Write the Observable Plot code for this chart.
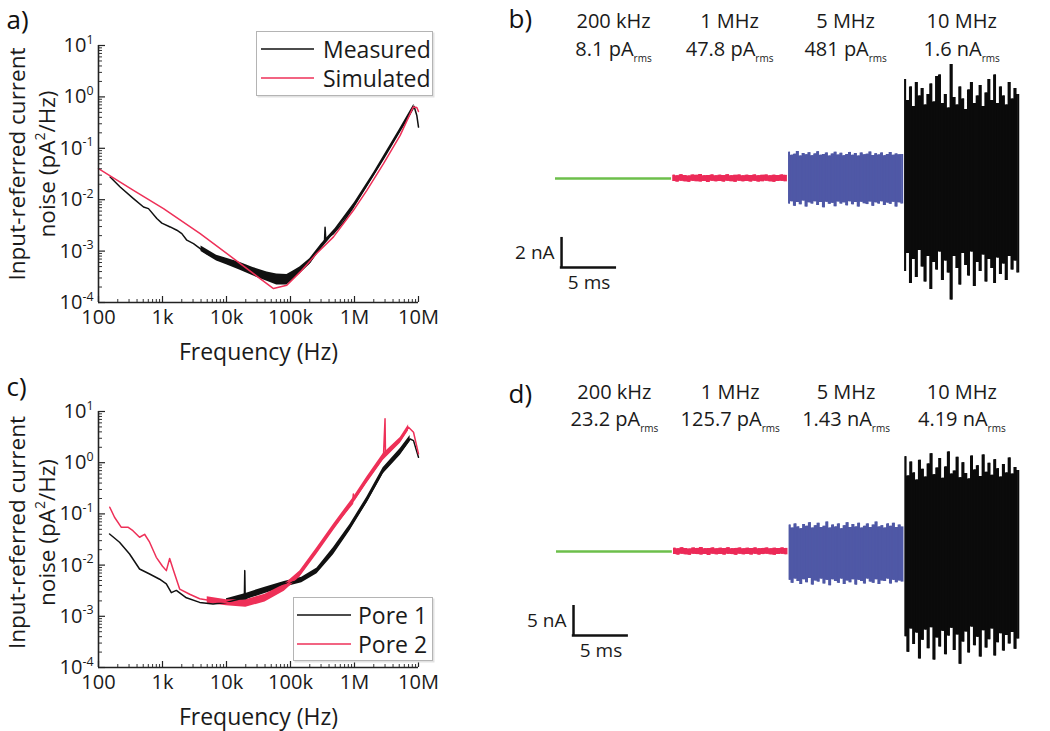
<!DOCTYPE html>
<html><head><meta charset="utf-8">
<script src="https://cdn.jsdelivr.net/npm/d3@7"></script>
<script src="https://cdn.jsdelivr.net/npm/@observablehq/plot@0.6"></script>
<style>
body{margin:0;background:#fff;}
#fig{position:relative;width:1050px;height:731px;overflow:hidden;font-family:"Open Sans",sans-serif;}
#fig > div{position:absolute;}
.legend{box-sizing:border-box;border:1.5px solid #b4b4b4;background:#fff;box-shadow:1.5px 1.5px 0 #e2e2e2;}
</style></head><body><div id="fig"></div>
<script>
// ---------- shared axis ticks ----------
const decadeTicks = [1e2, 1e3, 1e4, 1e5, 1e6, 1e7];
const decadeLabels = ["100", "1k", "10k", "100k", "1M", "10M"];
const yDecadeTicks = [1e-4, 1e-3, 1e-2, 1e-1, 1, 10];
const yDecadeExp = ["-4", "-3", "-2", "-1", "0", "1"];
const minorMultipliers = [2, 3, 4, 5, 6, 7, 8, 9];

// ---------- panel a : noise spectrum ----------
const aMeasuredF = [152, 218, 352, 505, 604, 815, 977, 1318, 1675, 2005, 2400, 3050, 3880, 4930, 7060, 10100, 16400, 26400, 42700, 61100, 87600, 111000, 142000, 203000, 291000, 340000, 347000, 356000, 470000, 673000, 964000, 1560000, 2840000, 5170000, 7410000, 8550000, 9410000, 10000000];
const aMeasuredV = [0.0277, 0.0177, 0.0105, 0.0072, 0.0067, 0.0043, 0.0035, 0.00295, 0.00255, 0.00219, 0.00163, 0.0014, 0.00112, 0.000895, 0.000716, 0.000617, 0.000493, 0.000394, 0.000325, 0.000293, 0.000293, 0.00034, 0.000425, 0.000617, 0.00121, 0.0016, 0.0029, 0.0017, 0.00219, 0.00369, 0.00722, 0.019, 0.0628, 0.223, 0.47, 0.653, 0.436, 0.259];
const aBandF = [4000, 7000, 10000, 16000, 26000, 43000, 61000, 88000, 110000, 140000, 200000, 300000, 500000, 1000000, 2000000, 5000000, 8500000];
const aBandLo = [0.00098, 0.00064, 0.00054, 0.00043, 0.00033, 0.00026, 0.00022, 0.00022, 0.00028, 0.00036, 0.00055, 0.00108, 0.0023, 0.0071, 0.028, 0.19, 0.57];
const aBandHi = [0.00125, 0.00083, 0.00073, 0.00061, 0.00048, 0.00039, 0.00036, 0.00035, 0.00041, 0.00049, 0.00071, 0.00136, 0.00275, 0.0088, 0.034, 0.23, 0.72];
const aSimulatedF = [100, 352, 1037, 3880, 12900, 33500, 54200, 87600, 142000, 256000, 470000, 964000, 1560000, 2840000, 5170000, 8270000, 9410000, 10000000];
const aSimulatedV = [0.0402, 0.0152, 0.0067, 0.00219, 0.000716, 0.000292, 0.000187, 0.000217, 0.000394, 0.000895, 0.00189, 0.00622, 0.0152, 0.0502, 0.178, 0.634, 0.62, 0.52];

// ---------- panel c : two pores ----------
const cPore1F = [149, 213, 306, 438, 629, 902, 1148, 1374, 1644, 2360, 3810, 6170, 9980, 16100, 19000, 19300, 19600, 26100, 42200, 76900, 140000, 256000, 467000, 851000, 1550000, 2830000, 5160000, 7410000, 8360000, 10000000];
const cPore1V = [0.0405, 0.028, 0.0165, 0.0084, 0.0067, 0.0053, 0.0043, 0.0029, 0.0032, 0.0023, 0.00187, 0.00173, 0.00187, 0.00217, 0.0022, 0.0078, 0.0022, 0.0027, 0.0034, 0.0043, 0.005, 0.0078, 0.019, 0.055, 0.182, 0.70, 1.6, 2.9, 2.7, 1.28];
const cPore1BandF = [10000, 20000, 40000, 80000, 150000, 260000, 470000, 850000, 1550000, 2800000, 5200000, 7400000];
const cPore1BandLo = [0.0017, 0.0021, 0.0028, 0.0037, 0.0045, 0.0068, 0.016, 0.047, 0.16, 0.6, 1.4, 2.6];
const cPore1BandHi = [0.0022, 0.0028, 0.0037, 0.0048, 0.0058, 0.0088, 0.022, 0.062, 0.21, 0.8, 1.9, 3.4];
const cPore2F = [150, 178, 226, 288, 345, 438, 525, 629, 800, 1000, 1148, 1294, 1460, 1855, 2660, 3810, 6170, 9980, 16100, 26100, 42200, 76900, 140000, 256000, 467000, 930000, 960000, 990000, 1550000, 2830000, 3000000, 3050000, 5160000, 6980000, 8360000, 10000000];
const cPore2V = [0.135, 0.086, 0.055, 0.055, 0.047, 0.035, 0.040, 0.028, 0.0142, 0.0095, 0.0078, 0.0135, 0.0084, 0.0034, 0.0027, 0.0022, 0.0020, 0.00187, 0.00173, 0.00187, 0.00234, 0.00367, 0.0067, 0.0191, 0.0547, 0.16, 0.245, 0.19, 0.447, 1.28, 7.2, 1.4, 2.71, 4.94, 3.94, 1.49];
const cPore2BandF = [5000, 10000, 20000, 40000, 80000, 140000, 260000, 470000, 960000, 1550000, 2800000, 5200000, 7000000];
const cPore2BandLo = [0.0018, 0.0016, 0.0015, 0.0019, 0.0031, 0.0058, 0.0165, 0.047, 0.16, 0.39, 1.1, 2.4, 4.2];
const cPore2BandHi = [0.0024, 0.0021, 0.0021, 0.0027, 0.0042, 0.0077, 0.022, 0.063, 0.21, 0.52, 1.5, 3.1, 5.5];

// ---------- panels b & d : time traces ----------
const freqLabels = ["200 kHz", "1 MHz", "5 MHz", "10 MHz"];
const bRmsLabels = ["8.1 pA", "47.8 pA", "481 pA", "1.6 nA"];
const dRmsLabels = ["23.2 pA", "125.7 pA", "1.43 nA", "4.19 nA"];
const segStart = [0, 10.55, 21.1, 31.65];   // ms
const segLen = 10.55;                        // ms
const traceColors = ["#6dbf4b", "#ec2a58", "#4f58a6", "#0b0b0b"];

const bRedHi = [0.22,0.18,0.25,0.2,0.17,0.23,0.21,0.26,0.19,0.2,0.24,0.18,0.22,0.2,0.25,0.19,0.21,0.23,0.18,0.22,0.2,0.24,0.19,0.21,0.23,0.18,0.22,0.2,0.24,0.21];
const bRedLo = [-0.2,-0.24,-0.18,-0.22,-0.25,-0.19,-0.21,-0.23,-0.2,-0.26,-0.18,-0.22,-0.2,-0.24,-0.19,-0.21,-0.25,-0.18,-0.22,-0.2,-0.23,-0.19,-0.24,-0.21,-0.18,-0.22,-0.25,-0.2,-0.19,-0.22];
const bBlueHi = [1.75,1.55,1.62,1.8,1.5,1.66,1.58,1.72,1.52,1.64,1.78,1.55,1.6,1.7,1.5,1.63,1.75,1.56,1.68,1.52,1.6,1.74,1.55,1.66,1.5,1.7,1.58,1.62,1.76,1.53,1.65,1.57,1.7,1.52,1.6,1.73,1.55,1.64,1.58,1.6];
const bBlueLo = [-1.7,-1.55,-1.85,-1.6,-1.75,-1.5,-1.9,-1.62,-1.7,-1.55,-1.8,-1.6,-1.95,-1.58,-1.72,-1.65,-1.88,-1.56,-1.7,-1.62,-1.82,-1.55,-1.75,-1.6,-1.9,-1.58,-1.68,-1.74,-1.56,-1.85,-1.62,-1.7,-1.55,-1.8,-1.64,-1.72,-1.58,-1.9,-1.62,-1.7];
const bBlackHi = [6.6,5.2,6.1,4.8,6.4,5.5,6.0,4.9,5.6,6.3,5.1,6.8,6.9,5.0,5.6,4.7,7.6,5.4,4.9,6.1,5.3,4.6,5.9,6.4,5.0,5.5,6.2,4.8,5.7,6.6,5.2,6.9,5.0,6.1,5.5,4.9,6.4,5.3,6.0,5.6];
const bBlackLo = [-6.2,-5.0,-7.0,-5.4,-6.6,-4.8,-5.9,-6.9,-5.2,-7.4,-5.6,-6.1,-4.9,-6.8,-5.5,-6.3,-8.1,-5.2,-6.0,-7.1,-5.0,-5.8,-6.5,-4.9,-7.2,-5.6,-6.2,-5.1,-6.9,-5.4,-6.0,-7.0,-5.3,-6.4,-5.7,-6.8,-5.2,-6.1,-5.5,-6.3];

const dRedHi = [0.55,0.45,0.62,0.5,0.42,0.58,0.52,0.65,0.47,0.5,0.6,0.45,0.55,0.5,0.62,0.47,0.52,0.58,0.45,0.55,0.5,0.6,0.47,0.52,0.58,0.45,0.55,0.5,0.6,0.52];
const dRedLo = [-0.5,-0.6,-0.45,-0.55,-0.62,-0.47,-0.52,-0.58,-0.5,-0.65,-0.45,-0.55,-0.5,-0.6,-0.47,-0.52,-0.62,-0.45,-0.55,-0.5,-0.58,-0.47,-0.6,-0.52,-0.45,-0.55,-0.62,-0.5,-0.47,-0.55];
const dBlueHi = [4.4,3.9,4.6,4.1,3.8,4.5,4.2,4.8,3.9,4.3,4.7,4.0,4.2,4.9,3.9,4.4,4.1,4.6,3.8,4.3,4.8,4.0,4.5,4.1,4.7,3.9,4.2,4.6,4.0,4.4,4.9,4.1,4.3,3.9,4.6,4.2,4.7,4.0,4.4,4.1];
const dBlueLo = [-4.8,-5.3,-4.6,-5.0,-5.5,-4.7,-5.2,-4.5,-5.6,-4.9,-5.1,-4.6,-5.4,-4.8,-5.7,-4.7,-5.0,-5.3,-4.6,-5.5,-4.9,-5.2,-4.7,-5.6,-4.8,-5.0,-5.4,-4.6,-5.1,-5.3,-4.7,-5.5,-4.9,-5.0,-4.6,-5.4,-4.8,-5.2,-4.9,-5.1];
const dBlackHi = [15.8,12.6,14.9,13.1,11.9,15.2,13.7,12.4,14.6,16.3,12.8,13.9,15.5,12.2,14.1,16.6,12.9,13.4,15.7,12.3,14.8,13.0,12.1,15.9,13.6,14.3,12.5,16.1,13.2,14.7,12.7,15.3,13.8,12.4,14.5,13.1,15.6,12.9,14.0,13.5];
const dBlackLo = [-14.2,-16.8,-12.9,-15.5,-13.6,-17.9,-14.8,-13.1,-16.2,-12.7,-18.1,-14.4,-15.9,-13.3,-17.2,-14.1,-12.8,-16.5,-13.9,-18.8,-15.1,-13.4,-16.9,-12.6,-15.7,-14.3,-17.6,-13.2,-16.1,-14.7,-12.9,-17.4,-15.2,-13.7,-16.6,-14.0,-15.4,-13.5,-16.3,-14.6];

const bScaleBar = {t: 0.55, y: -5.93, dt: 5, dy: 2, tLabel: "5 ms", yLabel: "2 nA"};
const dScaleBar = {t: 1.55, y: -14, dt: 5, dy: 5, tLabel: "5 ms", yLabel: "5 nA"};

// ---------- helpers ----------
const fig = document.getElementById("fig");
const FONT = "'Open Sans', 'Noto Sans', sans-serif";

function richText(svg) {
  svg.querySelectorAll("text").forEach(t => {
    const s = t.textContent;
    if (!/[\^_]\{/.test(s)) return;
    const fs = parseFloat(getComputedStyle(t).fontSize) || 16;
    const parts = s.split(/([\^_]\{[^}]*\})/).filter(p => p);
    while (t.firstChild) t.removeChild(t.firstChild);
    let shift = 0;
    for (const p of parts) {
      const ts = document.createElementNS("http://www.w3.org/2000/svg", "tspan");
      const m = p.match(/^([\^_])\{([^}]*)\}$/);
      let target = 0, txt = p;
      if (m) {
        txt = m[2];
        target = m[1] === "^" ? -0.42 * fs : 0.3 * fs;
        ts.setAttribute("font-size", (m[1] === "^" ? 0.62 : 0.5) * fs);
      }
      if (target - shift !== 0) ts.setAttribute("dy", target - shift);
      shift = target;
      ts.textContent = txt;
      t.appendChild(ts);
    }
  });
}

function place(node, left, top) {
  const d = document.createElement("div");
  d.style.left = left + "px";
  d.style.top = top + "px";
  d.appendChild(node);
  fig.appendChild(d);
  richText(node);
  return d;
}

function legend(left, top, w, h, items, lineX1, lineX2, textX) {
  const d = document.createElement("div");
  d.className = "legend";
  Object.assign(d.style, {left: left + "px", top: top + "px", width: w + "px", height: h + "px"});
  const rows = items.map(it =>
    `<line x1="${lineX1}" x2="${lineX2}" y1="${it.y}" y2="${it.y}" stroke="${it.color}" stroke-width="1.6"/>` +
    `<text x="${textX}" y="${it.y}" dominant-baseline="central" font-size="23" fill="#1a1a1a" font-family="${FONT.replace(/'/g, "")}">${it.label}</text>`
  ).join("");
  d.innerHTML = `<svg width="${w - 3}" height="${h - 3}" style="display:block">${rows}</svg>`;
  fig.appendChild(d);
}

function zip(fs, vs) { return fs.map((f, i) => ({f, v: vs[i]})); }
function zipBand(fs, lo, hi) { return fs.map((f, i) => ({f, lo: lo[i], hi: hi[i]})); }

function spectrumPlot({height, marginTop, marginBottom, letter, letterDy, titleDy, bands, lines}) {
  const marginLeft = 98, width = 450, marginRight = 32;
  const frameW = width - marginLeft - marginRight, frameH = height - marginTop - marginBottom;
  const minorX = [], minorY = [];
  decadeTicks.slice(0, -1).forEach(d => minorMultipliers.forEach(m => minorX.push(d * m)));
  yDecadeTicks.slice(0, -1).forEach(d => minorMultipliers.forEach(m => minorY.push(d * m)));
  return Plot.plot({
    width, height, marginLeft, marginRight, marginTop, marginBottom,
    x: {type: "log", domain: [100, 1e7]},
    y: {type: "log", domain: [1e-4, 10]},
    style: {fontFamily: FONT, fontSize: "20px", color: "#1a1a1a", background: "transparent", overflow: "visible"},
    marks: [
      ...bands.map(b => Plot.areaY(b.data, {x: "f", y1: "lo", y2: "hi", fill: b.color, curve: "linear"})),
      ...lines.map(l => Plot.line(l.data, {x: "f", y: "v", stroke: l.color, strokeWidth: 1.5})),
      Plot.tickX(minorX, {x: d => d, insetTop: frameH - 3, stroke: "#333", strokeWidth: 1}),
      Plot.tickX(decadeTicks, {x: d => d, insetTop: frameH - 6, stroke: "#222", strokeWidth: 1.2}),
      Plot.tickY(minorY, {y: d => d, insetRight: frameW - 4, stroke: "#333", strokeWidth: 1}),
      Plot.tickY(yDecadeTicks, {y: d => d, insetRight: frameW - 7, stroke: "#222", strokeWidth: 1.2}),
      Plot.ruleX([100], {stroke: "#222", strokeWidth: 1.6}),
      Plot.ruleY([1e-4], {stroke: "#222", strokeWidth: 1.6}),
      Plot.axisX(decadeTicks, {tickSize: 0, tickPadding: 7, label: null, fontSize: 20,
        tickFormat: d => decadeLabels[decadeTicks.indexOf(d)]}),
      Plot.axisY(yDecadeTicks, {tickSize: 0, tickPadding: 5, label: null, fontSize: 20,
        tickFormat: d => "10^{" + yDecadeExp[yDecadeTicks.indexOf(d)] + "}"}),
      Plot.text(["Frequency (Hz)"], {text: d => d, frameAnchor: "bottom", lineAnchor: "middle", dy: 50, fontSize: 23, fill: "#1a1a1a"}),
      Plot.text(["Input-referred current"], {text: d => d, frameAnchor: "left", textAnchor: "middle", lineAnchor: "middle", rotate: -90, dx: -81, dy: titleDy, fontSize: 22.5, fill: "#1a1a1a"}),
      Plot.text(["noise (pA^{2}/Hz)"], {text: d => d, frameAnchor: "left", textAnchor: "middle", lineAnchor: "middle", rotate: -90, dx: -51, dy: titleDy, fontSize: 22.5, fill: "#1a1a1a"}),
      Plot.text([letter], {text: d => d, frameAnchor: "top-left", textAnchor: "start", lineAnchor: "middle", dx: -92, dy: letterDy, fontSize: 26, fill: "#111"})
    ]
  });
}

function envelope(hi, lo, seg) {
  const n = hi.length;
  return hi.map((h, i) => ({t: segStart[seg] + (i + 0.5) * segLen / n, hi: h, lo: lo[i]}));
}

function tracePlot({height, marginLeft, marginTop, marginBottom, yMax, rms, red, blue, black, bar, letter, letterDx, letterDy, fDy, rDy}) {
  const width = 550, marginRight = 11;
  const band = (data, color, sw) => [
    Plot.areaY(data, {x: "t", y1: "lo", y2: "hi", fill: color, curve: "step"}),
    Plot.ruleX(data, {x: "t", y1: "lo", y2: "hi", stroke: color, strokeWidth: sw})
  ];
  return Plot.plot({
    width, height, marginLeft, marginRight, marginTop, marginBottom,
    x: {domain: [0, 44], axis: null},
    y: {domain: [-yMax, yMax], axis: null},
    style: {fontFamily: FONT, fontSize: "20px", color: "#1a1a1a", background: "transparent", overflow: "visible"},
    marks: [
      Plot.ruleY([0], {x1: segStart[0], x2: segStart[0] + segLen, stroke: traceColors[0], strokeWidth: 2.4}),
      ...band(red, traceColors[1], 2.5),
      ...band(blue, traceColors[2], 2),
      ...band(black, traceColors[3], 2),
      Plot.text(freqLabels, {x: (d, i) => segStart[i] + segLen / 2, text: d => d, frameAnchor: "top", lineAnchor: "middle", dy: fDy, fontSize: 20, fill: "#1a1a1a"}),
      Plot.text(rms, {x: (d, i) => segStart[i] + segLen / 2, text: d => d + "_{rms}", frameAnchor: "top", lineAnchor: "middle", dy: rDy, fontSize: 20, fill: "#1a1a1a"}),
      Plot.ruleX([bar], {x: "t", y1: "y", y2: d => d.y + d.dy, stroke: "#111", strokeWidth: 2.5}),
      Plot.ruleY([bar], {y: "y", x1: d => d.t - 0.11, x2: d => d.t + d.dt, stroke: "#111", strokeWidth: 2.5}),
      Plot.text([bar], {x: "t", y: d => d.y + d.dy / 2, text: "yLabel", textAnchor: "end", lineAnchor: "middle", dx: -7, fontSize: 19, fill: "#1a1a1a"}),
      Plot.text([bar], {x: d => d.t + d.dt / 2, y: "y", text: "tLabel", lineAnchor: "middle", dy: 15, fontSize: 19, fill: "#1a1a1a"}),
      Plot.text([letter], {text: d => d, frameAnchor: "top-left", textAnchor: "start", lineAnchor: "middle", dx: letterDx, dy: letterDy, fontSize: 26, fill: "#111"})
    ]
  });
}

// ---------- panel a ----------
place(spectrumPlot({
  height: 365, marginTop: 45, marginBottom: 63, letter: "a)", letterDy: -25, titleDy: -10,
  bands: [{data: zipBand(aBandF, aBandLo, aBandHi), color: "#111"}],
  lines: [{data: zip(aMeasuredF, aMeasuredV), color: "#111"}, {data: zip(aSimulatedF, aSimulatedV), color: "#ee3058"}]
}), 0, 0);
legend(256, 31, 177, 65, [{label: "Measured", color: "#111", y: 17}, {label: "Simulated", color: "#ee3058", y: 46}], 4, 57, 66);

// ---------- panel c ----------
place(spectrumPlot({
  height: 371, marginTop: 51, marginBottom: 64, letter: "c)", letterDy: -24, titleDy: -7,
  bands: [{data: zipBand(cPore1BandF, cPore1BandLo, cPore1BandHi), color: "#111"},
          {data: zipBand(cPore2BandF, cPore2BandLo, cPore2BandHi), color: "#ee3058"}],
  lines: [{data: zip(cPore1F, cPore1V), color: "#111"}, {data: zip(cPore2F, cPore2V), color: "#ee3058"}]
}), 0, 360);
legend(293, 597, 140, 64, [{label: "Pore 1", color: "#111", y: 17}, {label: "Pore 2", color: "#ee3058", y: 46}], 3, 57, 64);

// ---------- panel b ----------
place(tracePlot({
  height: 320, marginLeft: 55, marginTop: 43, marginBottom: 7, yMax: 9, rms: bRmsLabels,
  red: envelope(bRedHi, bRedLo, 1), blue: envelope(bBlueHi, bBlueLo, 2), black: envelope(bBlackHi, bBlackLo, 3),
  bar: bScaleBar, letter: "b)", letterDx: -47, letterDy: -24, fDy: -22, rDy: 6
}), 500, 0);

// ---------- panel d ----------
place(tracePlot({
  height: 340, marginLeft: 56, marginTop: 31, marginBottom: 9, yMax: 25, rms: dRmsLabels,
  red: envelope(dRedHi, dRedLo, 1), blue: envelope(dBlueHi, dBlueLo, 2), black: envelope(dBlackHi, dBlackLo, 3),
  bar: dScaleBar, letter: "d)", letterDx: -48, letterDy: -7, fDy: -9, rDy: 18
}), 500, 370);
</script></body></html>
